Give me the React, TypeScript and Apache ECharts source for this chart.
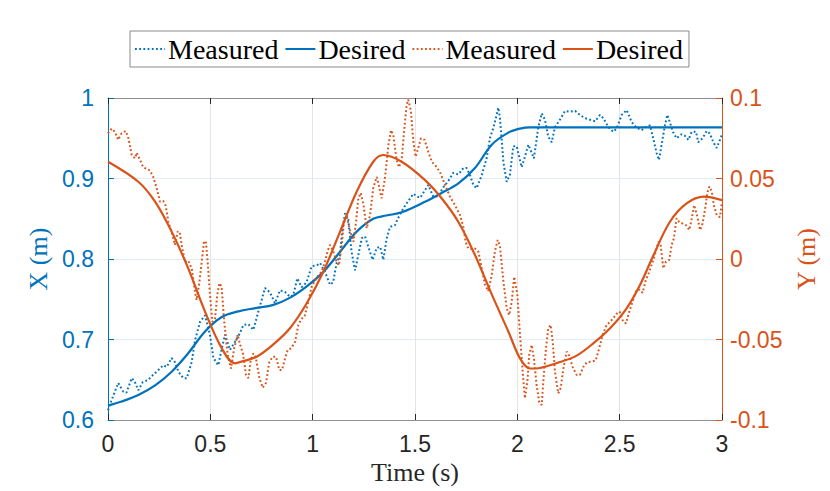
import React, { useEffect, useRef } from "react";
import * as echarts from "echarts";

const BLUE = "#0072BD";
const ORANGE = "#D95319";

// Measured X (left axis)
const tMeasX = [
  0, 0.018, 0.05, 0.075, 0.09, 0.116, 0.13, 0.148, 0.17, 0.197, 0.22, 0.246, 0.27, 0.287, 0.311, 0.327, 0.344,
  0.368, 0.385, 0.409, 0.425, 0.45, 0.474, 0.498, 0.515, 0.539, 0.556, 0.572, 0.596, 0.62, 0.645, 0.661, 0.686,
  0.71, 0.734, 0.767, 0.79, 0.816, 0.84, 0.865, 0.889, 0.905, 0.925, 0.946, 0.97, 0.995, 1.02, 1.036, 1.06,
  1.085, 1.1, 1.117, 1.134, 1.142, 1.158, 1.174, 1.19, 1.207, 1.223, 1.24, 1.256, 1.272, 1.293, 1.313, 1.33,
  1.345, 1.362, 1.378, 1.402, 1.418, 1.443, 1.467, 1.492, 1.508, 1.525, 1.54, 1.565, 1.59, 1.613, 1.638, 1.663,
  1.687, 1.712, 1.736, 1.752, 1.769, 1.785, 1.801, 1.826, 1.85, 1.866, 1.883, 1.899, 1.907, 1.915, 1.923, 1.932,
  1.948, 1.964, 1.98, 1.997, 2.021, 2.037, 2.054, 2.07, 2.081, 2.102, 2.119, 2.135, 2.151, 2.168, 2.184, 2.208,
  2.233, 2.257, 2.282, 2.306, 2.33, 2.355, 2.38, 2.404, 2.42, 2.445, 2.469, 2.485, 2.51, 2.534, 2.559, 2.583,
  2.607, 2.632, 2.648, 2.664, 2.68, 2.692, 2.705, 2.721, 2.733, 2.745, 2.762, 2.778, 2.803, 2.819, 2.836, 2.852,
  2.873, 2.884, 2.905, 2.925, 2.94, 2.958, 2.974, 2.99, 3.0,
];
const xMeas = [
  0.612, 0.625, 0.646, 0.635, 0.634, 0.652, 0.648, 0.637, 0.647, 0.65, 0.656, 0.662, 0.668, 0.666, 0.677, 0.672, 0.66,
  0.652, 0.652, 0.672, 0.699, 0.722, 0.73, 0.706, 0.677, 0.668, 0.689, 0.706, 0.687, 0.697, 0.708, 0.718, 0.719,
  0.712, 0.734, 0.764, 0.759, 0.745, 0.761, 0.759, 0.753, 0.755, 0.776, 0.765, 0.771, 0.791, 0.792, 0.795, 0.784,
  0.768, 0.771, 0.795, 0.805, 0.83, 0.857, 0.849, 0.809, 0.786, 0.805, 0.826, 0.828, 0.815, 0.799, 0.814, 0.815,
  0.799, 0.826, 0.84, 0.842, 0.851, 0.863, 0.872, 0.881, 0.878, 0.876, 0.882, 0.892, 0.877, 0.878, 0.889, 0.897,
  0.907, 0.905, 0.913, 0.913, 0.904, 0.892, 0.888, 0.904, 0.925, 0.95, 0.963, 0.979, 0.988, 0.975, 0.95, 0.92,
  0.896, 0.905, 0.94, 0.94, 0.914, 0.927, 0.942, 0.932, 0.925, 0.963, 0.981, 0.973, 0.952, 0.945, 0.964, 0.973,
  0.984, 0.983, 0.984, 0.979, 0.975, 0.973, 0.971, 0.979, 0.975, 0.964, 0.958, 0.962, 0.979, 0.985, 0.97, 0.963,
  0.96, 0.965, 0.966, 0.95, 0.932, 0.923, 0.942, 0.966, 0.979, 0.97, 0.957, 0.95, 0.955, 0.953, 0.948, 0.958,
  0.958, 0.945, 0.95, 0.959, 0.956, 0.945, 0.938, 0.948, 0.955,
];

// Desired X (left axis)
const tDesX = [
  0, 0.067, 0.148, 0.23, 0.311, 0.392, 0.474, 0.556, 0.637, 0.72, 0.808, 0.89, 0.971, 1.052, 1.134, 1.215, 1.296,
  1.36, 1.435, 1.549, 1.63, 1.712, 1.793, 1.875, 1.956, 2.013, 2.062, 2.5, 3.0,
];
const xDes = [
  0.618, 0.623, 0.631, 0.643, 0.66, 0.683, 0.71, 0.728, 0.735, 0.739, 0.743, 0.752, 0.766, 0.784, 0.809, 0.834, 0.85,
  0.854, 0.858, 0.871, 0.882, 0.894, 0.913, 0.942, 0.957, 0.962, 0.9636, 0.9636, 0.9636,
];

// Measured Y (right axis)
const tMeasY = [
  0, 0.018, 0.034, 0.05, 0.066, 0.086, 0.098, 0.116, 0.132, 0.14, 0.155, 0.172, 0.188, 0.205, 0.221, 0.238, 0.254,
  0.27, 0.282, 0.295, 0.311, 0.327, 0.34, 0.35, 0.36, 0.376, 0.392, 0.409, 0.425, 0.433, 0.445, 0.458, 0.469,
  0.478, 0.487, 0.498, 0.51, 0.523, 0.534, 0.544, 0.555, 0.568, 0.585, 0.601, 0.617, 0.634, 0.645, 0.66, 0.674,
  0.686, 0.697, 0.71, 0.722, 0.74, 0.756, 0.772, 0.788, 0.805, 0.821, 0.837, 0.85, 0.865, 0.878, 0.895, 0.914,
  0.93, 0.946, 0.96, 0.979, 0.995, 1.011, 1.028, 1.044, 1.06, 1.073, 1.085, 1.1, 1.114, 1.128, 1.142, 1.153,
  1.166, 1.182, 1.199, 1.212, 1.223, 1.235, 1.248, 1.264, 1.28, 1.296, 1.313, 1.32, 1.337, 1.353, 1.37, 1.383,
  1.394, 1.41, 1.422, 1.435, 1.448, 1.459, 1.467, 1.48, 1.492, 1.503, 1.516, 1.529, 1.547, 1.565, 1.582, 1.6,
  1.622, 1.647, 1.671, 1.695, 1.72, 1.736, 1.747, 1.76, 1.776, 1.792, 1.81, 1.826, 1.842, 1.858, 1.875, 1.89,
  1.904, 1.915, 1.932, 1.948, 1.96, 1.972, 1.985, 2.0, 2.013, 2.026, 2.037, 2.05, 2.058, 2.07, 2.081, 2.094,
  2.107, 2.119, 2.127, 2.14, 2.151, 2.163, 2.173, 2.184, 2.2, 2.212, 2.225, 2.241, 2.253, 2.27, 2.29, 2.306,
  2.326, 2.342, 2.363, 2.383, 2.4, 2.417, 2.436, 2.453, 2.469, 2.485, 2.5, 2.517, 2.531, 2.547, 2.563, 2.58,
  2.596, 2.612, 2.628, 2.645, 2.656, 2.672, 2.689, 2.7, 2.713, 2.726, 2.742, 2.754, 2.765, 2.778, 2.791, 2.808,
  2.824, 2.84, 2.852, 2.864, 2.88, 2.893, 2.905, 2.918, 2.928, 2.938, 2.95, 2.96, 2.974, 2.99, 3.0,
];
const yMeas = [
  0.078, 0.081, 0.079, 0.074, 0.078, 0.0795, 0.076, 0.0646, 0.0625, 0.066, 0.062, 0.057, 0.056, 0.055, 0.051, 0.044,
  0.0356, 0.036, 0.033, 0.023, 0.017, 0.0087, 0.017, 0.017, 0.0087, -0.0017, -0.001, -0.0058, -0.0203, -0.0255,
  -0.016, -0.0017, 0.0107, 0.011, -0.0017, -0.022, -0.039, -0.037, -0.022, -0.015, -0.017, -0.039, -0.06, -0.068,
  -0.055, -0.047, -0.053, -0.059, -0.072, -0.074, -0.063, -0.0586, -0.061, -0.074, -0.08, -0.077, -0.064, -0.0607,
  -0.0607, -0.069, -0.069, -0.0617, -0.0565, -0.0555, -0.0514, -0.041, -0.037, -0.036, -0.0265, -0.0172, -0.0135,
  -0.01, -0.008, -0.0017, 0.005, 0.0087, 0.005, -0.0006, -0.004, 0.0087, 0.023, 0.027, 0.018, 0.0107, 0.023, 0.0377,
  0.041, 0.034, 0.019, 0.027, 0.044, 0.051, 0.0475, 0.0377, 0.05, 0.0708, 0.08, 0.077, 0.0615, 0.057, 0.062, 0.081,
  0.0956, 0.099, 0.092, 0.073, 0.0635, 0.069, 0.075, 0.074, 0.0666, 0.0604, 0.058, 0.054, 0.046, 0.0387, 0.0335,
  0.0273, 0.02, 0.0107, 0.0066, 0.0062, 0.0066, 0.0045, -0.0058, -0.016, -0.02, -0.01, 0.0045, 0.0118, 0.008,
  -0.014, -0.0306, -0.0348, -0.027, -0.011, -0.022, -0.047, -0.07, -0.0865, -0.075, -0.0596, -0.0534, -0.062,
  -0.078, -0.089, -0.0907, -0.076, -0.0555, -0.043, -0.041, -0.0514, -0.07, -0.0835, -0.08, -0.068, -0.0575, -0.06,
  -0.067, -0.072, -0.072, -0.066, -0.064, -0.0638, -0.063, -0.0555, -0.047, -0.041, -0.039, -0.0368, -0.034,
  -0.0327, -0.039, -0.04, -0.0327, -0.0265, -0.02, -0.019, -0.021, -0.013, -0.0079, -0.0037, 0.0025, 0.0107, 0.009,
  -0.0058, -0.0017, -0.0006, 0.0087, 0.0128, 0.0253, 0.023, 0.022, 0.021, 0.018, 0.025, 0.0335, 0.026, 0.018, 0.022,
  0.0315, 0.041, 0.045, 0.042, 0.0335, 0.0273, 0.026, 0.0356,
];

// Desired Y (right axis)
const tDesY = [
  0, 0.148, 0.23, 0.311, 0.392, 0.474, 0.556, 0.62, 0.645, 0.726, 0.808, 0.889, 0.971, 1.052, 1.134, 1.215, 1.296,
  1.345, 1.435, 1.549, 1.63, 1.712, 1.793, 1.875, 1.956, 2.013, 2.062, 2.085, 2.208, 2.29, 2.371, 2.453, 2.534,
  2.6, 2.664, 2.745, 2.827, 2.91, 3.0,
];
const yDes = [
  0.0604, 0.048, 0.0356, 0.017, -0.0058, -0.0327, -0.0555, -0.0648, -0.064, -0.0607, -0.053, -0.043, -0.0275,
  -0.0079, 0.017, 0.0418, 0.0604, 0.0646, 0.0604, 0.049, 0.0377, 0.023, 0.0025, -0.022, -0.045, -0.0617, -0.068,
  -0.068, -0.064, -0.06, -0.0524, -0.043, -0.0306, -0.016, 0.002, 0.023, 0.0345, 0.0387, 0.0366,
];

// Axis ticks
const xTicks = { min: 0, max: 3, interval: 0.5 };
const yLeftTicks = { min: 0.6, max: 1, interval: 0.1 };
const yRightTicks = { min: -0.1, max: 0.1, interval: 0.05 };

const legendLabels: Record<string, string> = {
  "Measured X": "Measured",
  "Desired X": "Desired",
  "Measured Y": "Measured",
  "Desired Y": "Desired",
};

const zip = (t: number[], v: number[]) => t.map((ti, i) => [ti, v[i]]);

export default function App() {
  const ref = useRef<HTMLDivElement>(null);
  useEffect(() => {
    if (!ref.current) return;
    const chart = echarts.init(ref.current, undefined, { renderer: "svg" });
    const serif = "'Liberation Serif', 'Times New Roman', serif";
    const sans = "'Liberation Sans', Arial, Helvetica, sans-serif";
    const dotted = [1.8, 2.4];
    chart.setOption({
      animation: false,
      backgroundColor: "#ffffff",
      grid: { left: 108, right: 108, top: 98, bottom: 71, containLabel: false },
      legend: {
        left: 130,
        top: 31,
        orient: "horizontal",
        padding: [4, 6, 4, 4],
        itemGap: 6,
        itemWidth: 30,
        itemHeight: 14,
        borderColor: "#8a8a8a",
        borderWidth: 1,
        backgroundColor: "#ffffff",
        itemStyle: { opacity: 0 },
        data: ["Measured X", "Desired X", "Measured Y", "Desired Y"],
        formatter: (n: string) => legendLabels[n] || n,
        textStyle: { fontFamily: serif, fontSize: 28, color: "#000000", padding: [0, 0, 0, -2] },
      },
      xAxis: [
        {
          type: "value",
          position: "bottom",
          ...xTicks,
          name: "Time (s)",
          nameLocation: "middle",
          nameGap: 39,
          nameTextStyle: { fontFamily: serif, fontSize: 26, color: "#262626" },
          axisLine: { show: true, onZero: false, lineStyle: { color: "#8f8f8f", width: 1 } },
          axisTick: { show: true, inside: true, length: 6, lineStyle: { color: "#262626" } },
          axisLabel: { color: "#262626", fontSize: 23, fontFamily: sans, margin: 12 },
          splitLine: { show: true, lineStyle: { color: "#e4e4e4", width: 1 } },
        },
        {
          type: "value",
          position: "top",
          ...xTicks,
          axisLine: { show: true, onZero: false, lineStyle: { color: "#8f8f8f", width: 1 } },
          axisTick: { show: true, inside: true, length: 6, lineStyle: { color: "#262626" } },
          axisLabel: { show: false },
          splitLine: { show: false },
        },
      ],
      yAxis: [
        {
          type: "value",
          position: "left",
          ...yLeftTicks,
          name: "X (m)",
          nameLocation: "middle",
          nameRotate: 90,
          nameGap: 55,
          nameTextStyle: { fontFamily: serif, fontSize: 26, color: BLUE },
          axisLine: { show: true, onZero: false, lineStyle: { color: BLUE, width: 1 } },
          axisTick: { show: true, inside: true, length: 6, lineStyle: { color: BLUE } },
          axisLabel: { color: BLUE, fontSize: 23, fontFamily: sans, margin: 14 },
          splitLine: { show: true, lineStyle: { color: "rgba(0,114,189,0.13)", width: 1 } },
        },
        {
          type: "value",
          position: "right",
          ...yRightTicks,
          name: "Y (m)",
          nameLocation: "middle",
          nameRotate: 90,
          nameGap: 65,
          nameTextStyle: { fontFamily: serif, fontSize: 26, color: ORANGE },
          axisLine: { show: true, onZero: false, lineStyle: { color: ORANGE, width: 1 } },
          axisTick: { show: true, inside: true, length: 6, lineStyle: { color: ORANGE } },
          axisLabel: { color: ORANGE, fontSize: 23, fontFamily: sans, margin: 8 },
          splitLine: { show: false },
        },
      ],
      series: [
        {
          name: "Measured X",
          type: "line",
          xAxisIndex: 0,
          yAxisIndex: 0,
          data: zip(tMeasX, xMeas),
          symbol: "none",
          lineStyle: { color: BLUE, width: 2, type: dotted },
          itemStyle: { color: BLUE },
        },
        {
          name: "Desired X",
          type: "line",
          xAxisIndex: 0,
          yAxisIndex: 0,
          data: zip(tDesX, xDes),
          symbol: "none",
          smooth: 0.35,
          lineStyle: { color: BLUE, width: 2.2, type: "solid" },
          itemStyle: { color: BLUE },
        },
        {
          name: "Measured Y",
          type: "line",
          xAxisIndex: 0,
          yAxisIndex: 1,
          data: zip(tMeasY, yMeas),
          symbol: "none",
          lineStyle: { color: ORANGE, width: 2, type: dotted },
          itemStyle: { color: ORANGE },
        },
        {
          name: "Desired Y",
          type: "line",
          xAxisIndex: 0,
          yAxisIndex: 1,
          data: zip(tDesY, yDes),
          symbol: "none",
          smooth: 0.35,
          lineStyle: { color: ORANGE, width: 2.2, type: "solid" },
          itemStyle: { color: ORANGE },
        },
      ],
    });
    return () => chart.dispose();
  }, []);
  return (
    <div
      ref={ref}
      style={{ position: "absolute", left: 0, top: 0, width: 830, height: 491, background: "#fff" }}
    />
  );
}
